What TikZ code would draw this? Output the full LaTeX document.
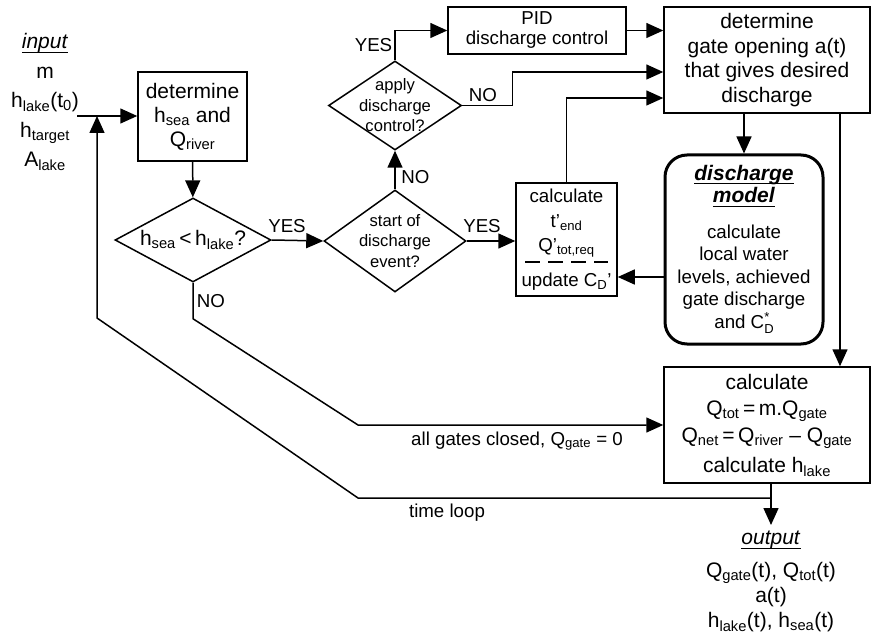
\documentclass[tikz,border=0pt]{standalone}
\usepackage{fontspec}
\setmainfont{Liberation Sans}
\usetikzlibrary{arrows.meta,positioning,shapes.geometric}

\newcommand{\fsbig}{\fontsize{21}{24}\selectfont}
\newcommand{\fsmid}{\fontsize{18.7}{23}\selectfont}
\newcommand{\fssmall}{\fontsize{16.6}{20.5}\selectfont}
\newcommand{\lo}[1]{\textsubscript{#1}}
\newcommand{\ul}[1]{\setbox0\hbox{#1}\rlap{\rule[-4pt]{\wd0}{1.1pt}}\box0}
\newcommand{\supsub}[2]{\raisebox{-0.55ex}{\fontsize{13}{9}\selectfont\shortstack[l]{#1\\#2}}}

\begin{document}
\begin{tikzpicture}[
x=1pt, y=-1pt,
box/.style={draw, line width=1.5pt, align=center, inner sep=0pt},
model/.style={draw, line width=3pt, rounded corners=22pt, align=center, inner sep=0pt},
dia/.style={draw, diamond, line width=1.5pt, inner sep=0pt},
dtext/.style={align=center, font=\fssmall, inner sep=0pt},
lbl/.style={font=\fsmid, inner sep=0pt, anchor=base},
arr/.style={-{Triangle[length=17pt,width=15pt]}, line width=1.5pt}
]
\useasboundingbox (0,0) rectangle (872,639);

% in and out
\node[align=center, font={\fontsize{21}{29.5}\selectfont}, inner sep=0pt] (input) at (45,102)
  {\ul{\textit{input}}\\m\\h\lo{lake}(t\lo{0})\\h\lo{target}\\A\lo{lake}};
\node[align=center, font={\fontsize{21}{25}\selectfont}, inner xsep=0pt, inner ysep=6pt, anchor=north] (output) at (771,525)
  {\ul{\textit{output}}\\[8pt]Q\lo{gate}(t), Q\lo{tot}(t)\\a(t)\\h\lo{lake}(t), h\lo{sea}(t)};

% boxes
\node[box, font=\fsbig, minimum width=109pt, minimum height=89pt] (det1) at (192.5,116.5) {determine\\h\lo{sea} and\\Q\lo{river}};
\node[box, font={\fontsize{18.7}{20}\selectfont}, minimum width=178pt, minimum height=47pt] (pid) at (537,30.5) {PID\\discharge control};
\node[box, font={\fontsize{21}{24.5}\selectfont}, minimum width=206pt, minimum height=106pt] (det2) at (767,60) {determine\\gate opening a(t)\\that gives desired\\discharge};
\node[box, font={\fontsize{18.7}{24.5}\selectfont}, minimum width=101pt, minimum height=113pt] (calc1) at (566.5,239.5)
  {calculate\\t’\lo{end}\\Q’\lo{tot,req}\\[10pt]update C\lo{D}’};
\node[model, font={\fontsize{18.7}{22.5}\selectfont}, minimum width=158pt, minimum height=189pt] (model) at (744,249.5)
  {{\fsbig\ul{\textbf{\textit{discharge}}}}\\{\fsbig\ul{\textbf{\textit{model}}}}\\[13pt]calculate\\local water\\levels, achieved\\gate discharge\\and C\supsub{*}{D}};
\node[box, font={\fontsize{21}{26.5}\selectfont}, minimum width=206pt, minimum height=116pt] (calc2) at (767,425)
  {calculate\\Q\lo{tot}\,=\,m.Q\lo{gate}\\Q\lo{net}\,=\,Q\lo{river} – Q\lo{gate}\\[4pt]calculate h\lo{lake}};

% decisions
\node[dia, minimum width=156pt, minimum height=84pt, label={[dtext, font=\fsbig]center:h\lo{sea}\,<\,h\lo{lake}?}] (d1) at (193,240) {};
\node[dia, minimum width=142pt, minimum height=102pt, label={[dtext]center:start of\\discharge\\event?}] (d2) at (395,241) {};
\node[dia, minimum width=133pt, minimum height=89pt, label={[dtext]center:apply\\discharge\\control?}] (d3) at (395,105.5) {};

% dashed split in calc1
\draw[line width=2pt, dash pattern=on 15pt off 8pt] (525,262) -- (608,262);

\coordinate (instart) at (77,116);
\coordinate (merge) at (97,116);
\coordinate (nobend) at (358,425);
\coordinate (tl1) at (358,498);
\coordinate (tl2) at (97,318);
\coordinate (mback) at (665,277);

\draw[arr] (instart) -- (det1.west |- instart);
\draw[arr] (det1) -- (d1);
\draw[arr] (d1.east) -- (d2.west);
\draw[arr] (d1.south) -- ++(0,36) -- (nobend) -- (calc2.west);
\draw[arr] (d2.east) -- (calc1.west |- d2.east);
\draw[arr] (d2.north) -- (d3.south);
\draw[arr] (d3.north) |- (pid.west);
\draw[arr] (d3.east) -- ++(50,0) |- ([yshift=-12pt]det2.west);
\draw[arr] (pid.east) -- (pid.east -| det2.west);
\draw[arr] (calc1.north) |- ([yshift=-38pt]det2.west);
\draw[arr] (model.north |- det2.south) -- (model.north);
\draw[arr] (mback) -- (mback -| calc1.east);
\draw[arr] ([xshift=73pt]det2.south) -- ([xshift=73pt]det2.south |- calc2.north);
\draw[arr] (output.north |- calc2.south) -- (output.north);
\draw[arr] (output.north |- tl1) -- (tl1) -- (tl2) -- (merge);

% labels
\node[lbl] (yes1) at (287,232) {YES};
\node[lbl] (no1) at (211,307) {NO};
\node[lbl] (yes2) at (482,232) {YES};
\node[lbl] (no2) at (415.5,184) {NO};
\node[lbl] (yes3) at (373.5,52) {YES};
\node[lbl] (no3) at (483,102) {NO};
\node[lbl] (closed) at (517,445) {all gates closed, Q\lo{gate} = 0};
\node[lbl] (loop) at (447,517) {time loop};
\end{tikzpicture}
\end{document}
